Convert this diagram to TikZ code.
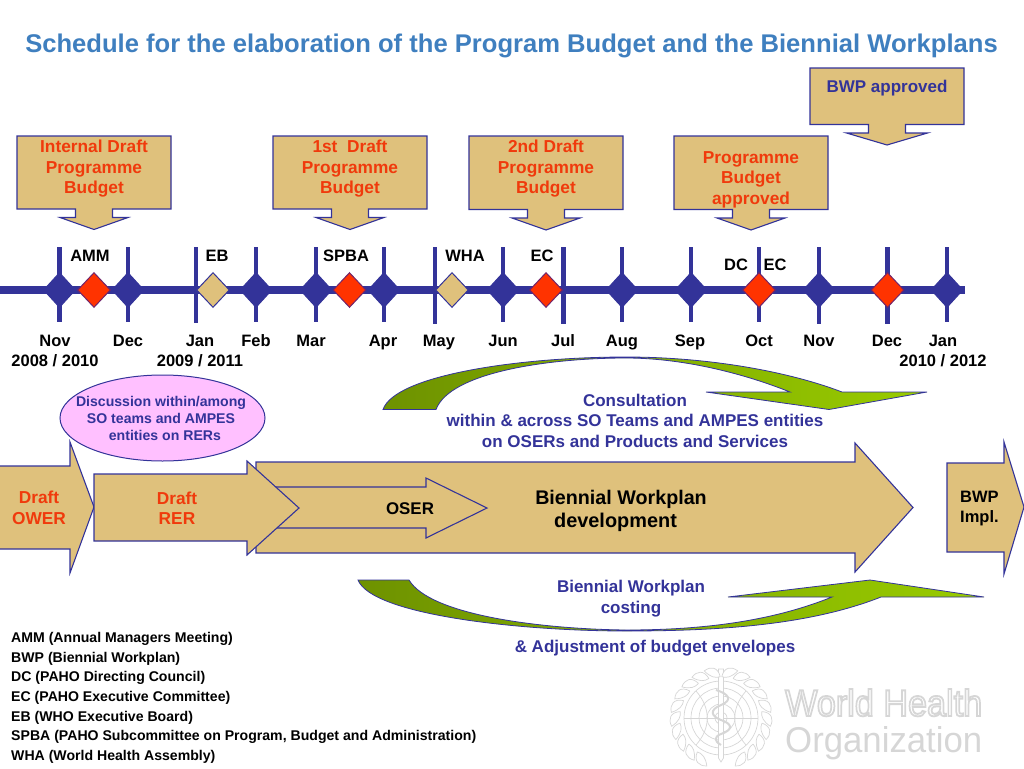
\documentclass[tikz,border=0pt]{standalone}
\usepackage{fontspec}
\usepackage{graphicx}
\setmainfont{Liberation Sans}
\usetikzlibrary{shapes.geometric}
\definecolor{navy}{HTML}{333399}
\definecolor{tan}{HTML}{DFC17C}
\definecolor{redtxt}{HTML}{F03A0C}
\definecolor{redd}{HTML}{FF3300}
\definecolor{pinkf}{HTML}{FFC0FF}
\definecolor{gdark}{HTML}{6E9200}
\definecolor{glight}{HTML}{99CC00}
\definecolor{logo}{HTML}{D6D6D6}
\definecolor{titleblue}{HTML}{3F7FBF}
\newcommand{\fs}[2]{\fontsize{#1}{#2}\selectfont\bfseries}
\newcommand{\calloutshape}[6]{% left right top bottom stemhalf barbhalf
  \pgfmathsetmacro{\cx}{(#1+#2)/2}
  \pgfmathsetmacro{\sl}{\cx-#5}\pgfmathsetmacro{\sr}{\cx+#5}
  \pgfmathsetmacro{\bl}{\cx-#6}\pgfmathsetmacro{\br}{\cx+#6}
  \pgfmathsetmacro{\by}{#4+8.5}\pgfmathsetmacro{\ty}{#4+20.5}
  \draw[shapeline] (#1,#3) -- (#2,#3) -- (#2,#4) -- (\sr,#4) -- (\sr,\by) -- (\br,\by)
    -- (\cx,\ty) -- (\bl,\by) -- (\sl,\by) -- (\sl,#4) -- (#1,#4) -- cycle;
}
\tikzset{
  shapeline/.style={draw=navy,line width=1.1pt,fill=tan,line join=miter},
  tick/.style={draw=navy,line width=4.4pt},
  dia/.style={diamond,minimum width=33pt,minimum height=35pt,inner sep=0pt,aspect=1,line width=1pt},
  bluedia/.style={dia,fill=navy,draw=navy,minimum width=32pt,minimum height=35pt},
  reddia/.style={dia,fill=redd,draw=navy!70!red},
  tandia/.style={dia,fill=tan,draw=navy},
  lab/.style={inner sep=0pt,anchor=base,align=center,font=\fs{16.5}{20.5}},
  redlab/.style={inner sep=0pt,align=center,text=redtxt,font=\fs{17.3}{20.5}},
  bluelab/.style={inner sep=0pt,align=center,text=navy,font=\fs{17}{20.5}},
  legend/.style={inner sep=0pt,anchor=base west,font=\fs{14.1}{15}},
  greenarrow/.style={draw=navy,line width=0.8pt,left color=gdark,right color=glight},
  logoline/.style={draw=logo,line width=0.7pt,fill=none},
}
\begin{document}
\begin{tikzpicture}[x=1pt,y=-1pt]
\useasboundingbox (0,0) rectangle (1024,768);
% title
\node[inner sep=0pt,text=titleblue,font=\fs{25.6}{28}] (title) at (511.5,45.5) {Schedule for the elaboration of the Program Budget and the Biennial Workplans};

% callouts
\calloutshape{17}{171}{136}{209}{18.5}{34}
\node[redlab] (c1) at (94,169) {Internal Draft\\Programme\\Budget};
\calloutshape{273}{427}{136}{209}{18.5}{34}
\node[redlab] (c2) at (350,169) {1st\ \ Draft\\Programme\\Budget};
\calloutshape{469}{623}{136}{209.5}{18.5}{34}
\node[redlab] (c3) at (546,169) {2nd Draft\\Programme\\Budget};
\calloutshape{674}{828}{136}{209.5}{18.5}{34}
\node[redlab] (c4) at (751,179.5) {Programme\\Budget\\approved};
\calloutshape{810}{964}{68}{124.5}{18.5}{40.5}
\node[bluelab] (c5) at (887,88) {BWP approved};

% timeline
\coordinate (ls) at (0,290);
\coordinate (le) at (965,290);
\draw[navy,line width=8pt] (ls) -- (le);
\foreach \n/\x/\b in {a/59.5/322,b/128/322,c/196/323,d/256/322,e/316/322,f/384/322,g/435/324,h/503/322,i/563.5/324,j/622/322,k/691/322,l/759/322,m/819/324,n/887.5/324,o/947/322}{
  \coordinate (t\n u) at (\x,247);
  \coordinate (t\n d) at (\x,\b);
  \draw[tick] (t\n u) -- (t\n d);
}
\foreach \n/\x in {a/59.5,b/128,d/256,e/316,f/384,h/503,j/622,k/691,m/819,o/947}{
  \node[bluedia] (d\n) at (\x,290) {};
}
\foreach \n/\x in {r1/94,r2/349.5,r3/546,r4/759,r5/887.5}{
  \node[reddia] (\n) at (\x,290) {};
}
\foreach \n/\x in {t1/213,t2/452}{
  \node[tandia] (\n) at (\x,290) {};
}
\node[lab] (amm) at (90,261) {AMM};
\node[lab] (eb) at (217,261) {EB};
\node[lab] (spba) at (346,261) {SPBA};
\node[lab] (wha) at (465,261) {WHA};
\node[lab] (ec1) at (542,261) {EC};
\node[lab] (dc) at (736,270) {DC};
\node[lab] (ec2) at (775,270) {EC};
\foreach \n/\x/\t in {m1/55/Nov,m2/128/Dec,m3/200/Jan,m4/256/Feb,m5/311/Mar,m6/383/Apr,m7/439/May,m8/503/Jun,m9/563/Jul,m10/622/Aug,m11/690/Sep,m12/759/Oct,m13/819/Nov,m14/887/Dec,m15/943/Jan}{
  \node[lab] (\n) at (\x,346) {\t};
}
\node[lab] (y1) at (55,366) {2008 / 2010};
\node[lab] (y2) at (200,366) {2009 / 2011};
\node[lab] (y3) at (943,366) {2010 / 2012};

% green arrows
\path[greenarrow] (383,409.5) .. controls (395,375) and (520,357) .. (626,357)
  .. controls (710,357) and (790,372) .. (842,392) -- (927,392) -- (829,409.5) -- (706,392) -- (790,392)
  .. controls (740,372) and (680,358) .. (626,358)
  .. controls (550,358) and (450,372) .. (436,409.5) -- cycle;
\path[greenarrow] (358,580) .. controls (372,615) and (520,631) .. (626,631)
  .. controls (720,631) and (810,625) .. (881,597) -- (984,597) -- (870,580) -- (728,597) -- (832,597)
  .. controls (770,622) and (700,630) .. (626,630)
  .. controls (540,629) and (430,615) .. (409,580) -- cycle;
\node[bluelab] (cons) at (635,420.5) {Consultation\\within \& across SO Teams and AMPES entities\\on OSERs and Products and Services};
\node[bluelab] (cost) at (631,598.5) {Biennial Workplan\\costing};
\node[bluelab] (adj) at (655,648) {\& Adjustment of budget envelopes};

% ellipse
\node[ellipse,draw=navy,fill=pinkf,line width=1pt,minimum width=205pt,minimum height=86pt,inner sep=0pt] (disc) at (162.5,418) {};
\node[inner sep=0pt,align=center,text=navy,font=\fs{14.1}{16.6}] (disct) at (161,418.5) {Discussion within/among\\SO teams and AMPES\\\ \ entities on RERs};

% process arrows
\draw[shapeline] (256,462) -- (855,462) -- (855,443) -- (913,507.5) -- (855,572) -- (855,553) -- (256,553) -- cycle;
\draw[shapeline] (272,487) -- (426,487) -- (426,478) -- (487,508) -- (426,538) -- (426,528) -- (272,528) -- cycle;
\draw[shapeline] (-1,466) -- (70,466) -- (70,442) -- (94,507) -- (70,573) -- (70,549) -- (-1,549);
\draw[shapeline] (94,474) -- (247,474) -- (247,461) -- (299,508) -- (247,555) -- (247,541) -- (94,541) -- cycle;
\draw[shapeline] (947,463) -- (1004,463) -- (1004,442) -- (1024,507) -- (1004,574) -- (1004,552) -- (947,552) -- cycle;
\node[redlab] (owr) at (39,508) {Draft\\OWER};
\node[redlab] (rer) at (177,508) {Draft\\RER};
\node[lab,font=\fs{16.9}{20}] (oser) at (410,514) {OSER};
\node[lab,font=\fs{19.7}{23.5}] (bwd1) at (621,504) {Biennial Workplan};
\node[lab,font=\fs{19.9}{23.5}] (bwd2) at (615.5,527) {development};
\node[inner sep=0pt,align=left,anchor=west,font=\fs{16.5}{20.5}] (impl) at (960,508.5) {BWP\\Impl.};

% legend
\foreach \n/\y/\t in {l1/642/AMM (Annual Managers Meeting),l2/662/BWP (Biennial Workplan),l3/681.5/DC (PAHO Directing Council),l4/701/EC (PAHO Executive Committee),l5/721/EB (WHO Executive Board),l6/740.5/{SPBA (PAHO Subcommittee on Program, Budget and Administration)},l7/760/WHA (World Health Assembly)}{
  \node[legend] (\n) at (11,\y) {\t};
}

% logo emblem
\begin{scope}[shift={(721,718)}]
  \foreach \r in {37,30,22,14,6}{ \draw[logoline] (0,0) circle[radius=\r]; }
  \draw[logoline] (-37,0) -- (37,0);
  \draw[logoline] (0,-37) -- (0,37);
  \draw[logoline] (-25,-27) .. controls (-10,-10) and (-10,10) .. (-25,27);
  \draw[logoline] (25,-27) .. controls (10,-10) and (10,10) .. (25,27);
  \draw[logo,fill=white,line width=0.7pt] (-2.5,-49) -- (2.5,-49) -- (2.5,40) -- (0,44) -- (-2.5,40) -- cycle;
  \draw[logo,line width=2pt] (-5,-28) .. controls (8,-24) and (12,-18) .. (0,-13)
    .. controls (-12,-8) and (-10,-2) .. (0,2) .. controls (12,6) and (12,12) .. (0,16)
    .. controls (-8,19) and (-6,24) .. (0,27);
  \foreach \s in {1,-1}{
    \begin{scope}[xscale=\s]
      \foreach \a in {-62,-46,...,82}{
        \begin{scope}[rotate=\a]
          \draw[logoline,fill=white] (41,-5) .. controls (51,-4) and (53,3) .. (49,10) .. controls (42,5) and (40,0) .. (41,-5);
        \end{scope}
      }
    \end{scope}
  }
\end{scope}
% logo wordmark
\node[inner sep=0pt,text=logo,anchor=base west] (who1) at (785,716) {\special{pdf:code 1 Tr 0.5 w}\resizebox{197pt}{27pt}{World Health}};
\node[inner sep=0pt,text=logo,anchor=base west] (who2) at (785,752) {\resizebox{197pt}{26pt}{Organization}\special{pdf:code 0 Tr}};
\end{tikzpicture}
\end{document}
